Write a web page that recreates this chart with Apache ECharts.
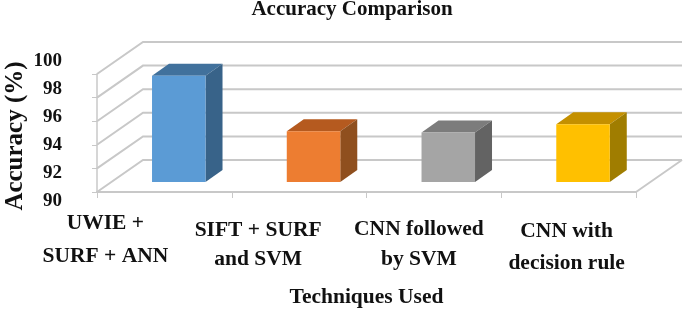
<!DOCTYPE html>
<html><head><meta charset="utf-8">
<style>html,body{margin:0;padding:0;background:#fff}#c{width:685px;height:309px}</style>
<script src="https://cdn.jsdelivr.net/npm/echarts@6/dist/echarts.min.js"></script>
</head><body><div id="c"></div>
<script>
const categories = ['UWIE +\nSURF + ANN', 'SIFT + SURF\nand SVM', 'CNN followed\nby SVM', 'CNN with\ndecision rule'];
const accuracy = [99, 94.3, 94.2, 94.9];
const yTicks = [90, 92, 94, 96, 98, 100];
const chartTitle = 'Accuracy Comparison';
const xName = 'Techniques Used';
const yName = 'Accuracy (%)';

const frontColors = ['#5b9bd5', '#ed7d31', '#a5a5a5', '#ffc000'];
const topColors = ['#41719c', '#b55a1f', '#7c7c7c', '#c49000'];
const sideColors = ['#386389', '#8f4f1e', '#636363', '#a07d00'];
const serif = '"Liberation Serif", serif';
const WALL = [46, -32], INSET = [14.4, -10], DEPTH = [17, -12];
const labelDx = [-59, -41, -15, -2], labelDy = [48, 53, 52, 55], labelLh = [33, 29, 30, 32];

function poly(points, fill) {
  return { type: 'polygon', shape: { points }, style: { fill } };
}
const chart = echarts.init(document.getElementById('c'), null, { renderer: 'canvas' });
chart.setOption({
  animation: false,
  title: { text: chartTitle, left: 347, top: -6, textAlign: 'center',
    textStyle: { fontFamily: serif, fontWeight: 'bold', fontSize: 21, color: '#111' } },
  grid: [
    { left: 97, top: 74, width: 539, height: 118, outerBoundsMode: 'none' },
    { left: 63, top: 61, width: 1, height: 140, outerBoundsMode: 'none' }
  ],
  xAxis: [
    { type: 'category', gridIndex: 0, data: categories, boundaryGap: true,
      axisLine: { lineStyle: { color: '#c8c8c8', width: 2 } },
      axisTick: { show: true, length: 6, lineStyle: { color: '#c8c8c8' } },
      axisLabel: { show: false }, splitLine: { show: false },
      name: xName, nameLocation: 'middle', nameGap: 94,
      nameTextStyle: { fontFamily: serif, fontWeight: 'bold', fontSize: 21.5, color: '#111' } },
    { type: 'category', gridIndex: 1, show: false, data: [''] }
  ],
  yAxis: [
    { type: 'value', gridIndex: 0, min: 90, max: 100, interval: 2,
      axisLine: { show: true, lineStyle: { color: '#c8c8c8', width: 1.5 } },
      axisTick: { show: true, length: 5, lineStyle: { color: '#c8c8c8' } },
      axisLabel: { show: false }, splitLine: { show: false },
      name: yName, nameLocation: 'middle', nameGap: 69, nameRotate: 90,
      nameTextStyle: { fontFamily: serif, fontWeight: 'bold', fontSize: 25, color: '#111', padding: [0, 6, 0, 0] } },
    { type: 'value', gridIndex: 1, min: 90, max: 100, interval: 2,
      axisLine: { show: false }, axisTick: { show: false }, splitLine: { show: false },
      axisLabel: { margin: 1, fontFamily: serif, fontWeight: 'bold', fontSize: 19, color: '#111' } }
  ],
  series: [
    { type: 'custom', xAxisIndex: 0, yAxisIndex: 0, z: 1, silent: true,
      data: yTicks.map(v => [0, v]),
      encode: { x: 0, y: 1 },
      renderItem(params, api) {
        const cs = params.coordSys;
        const y = api.coord([0, api.value(1)])[1];
        const pts = [[cs.x, y], [cs.x + WALL[0], y + WALL[1]], [cs.x + cs.width + WALL[0], y + WALL[1]]];
        const children = [{ type: 'polyline', shape: { points: pts }, style: { stroke: '#c8c8c8', lineWidth: 2, fill: null } }];
        if (api.value(1) === yTicks[0]) {
          children.push({ type: 'line', shape: { x1: cs.x + cs.width, y1: y, x2: cs.x + cs.width + WALL[0], y2: y + WALL[1] },
            style: { stroke: '#c8c8c8', lineWidth: 2 } });
        }
        return { type: 'group', children };
      } },
    { type: 'custom', xAxisIndex: 0, yAxisIndex: 0, z: 3, silent: true,
      data: accuracy.map((v, i) => [i, v]),
      encode: { x: 0, y: 1 },
      renderItem(params, api) {
        const i = api.value(0);
        const top = api.coord([i, api.value(1)]);
        const base = api.coord([i, 90]);
        const hw = api.size([1, 0])[0] * 0.397 / 2;
        const l = top[0] - hw + INSET[0], r = top[0] + hw + INSET[0];
        const t = top[1] + INSET[1], b = base[1] + INSET[1];
        const dx = DEPTH[0], dy = DEPTH[1];
        return { type: 'group', children: [
          poly([[l, t], [r, t], [r + dx, t + dy], [l + dx, t + dy]], topColors[i]),
          poly([[r, t], [r + dx, t + dy], [r + dx, b + dy], [r, b]], sideColors[i]),
          poly([[l, t], [r, t], [r, b], [l, b]], frontColors[i]),
          { type: 'text', style: { text: categories[i], x: base[0] + labelDx[i], y: base[1] + labelDy[i],
              align: 'center', verticalAlign: 'middle', lineHeight: labelLh[i],
              fontFamily: serif, fontWeight: 'bold', fontSize: 21.5, fill: '#111' } }
        ] };
      } }
  ]
});
</script></body></html>
